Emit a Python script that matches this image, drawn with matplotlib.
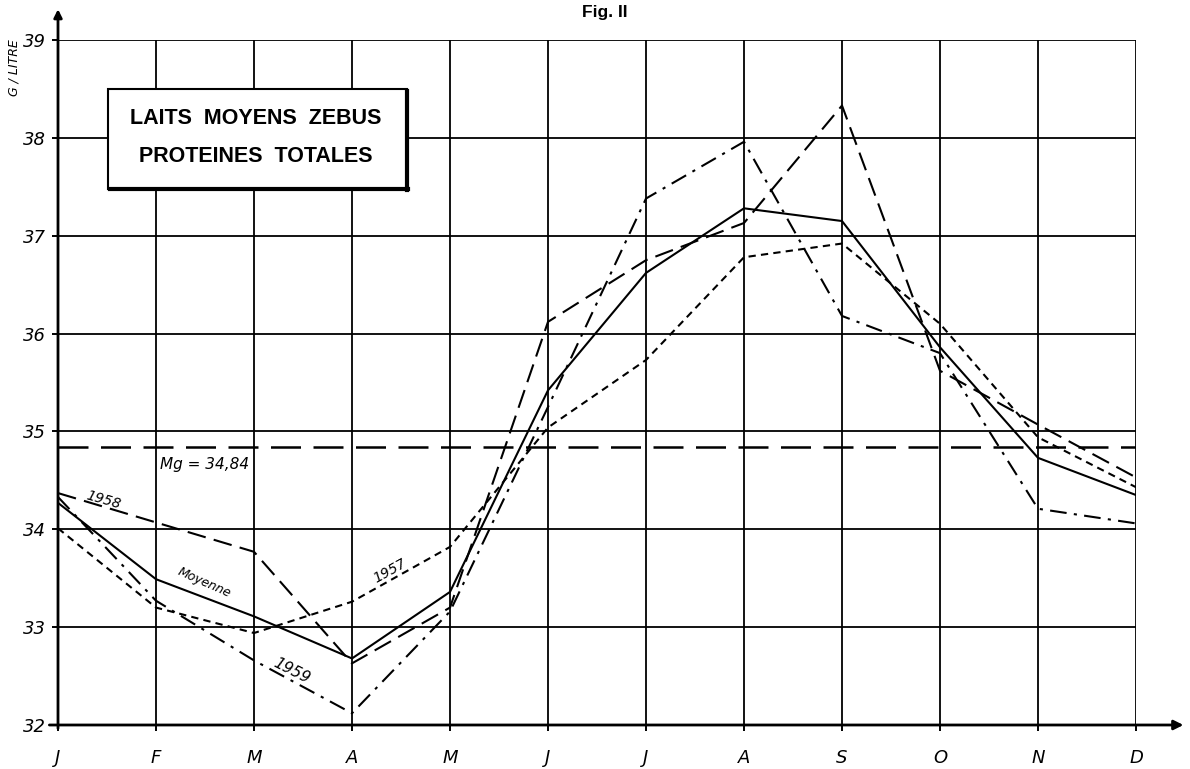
import matplotlib
matplotlib.use("Agg")
import matplotlib.pyplot as plt
import matplotlib.patches as mpatches
import numpy as np

months = ['J', 'F', 'M', 'A', 'M', 'J', 'J', 'A', 'S', 'O', 'N', 'D']
y_ticks = [32, 33, 34, 35, 36, 37, 38, 39]

moyenne = [34.27, 33.49, 33.11, 32.68, 33.36, 35.42, 36.62, 37.28, 37.15, 35.86, 34.73, 34.35]
y1957 = [34.01, 33.20, 32.94, 33.26, 33.82, 35.04, 35.73, 36.78, 36.92, 36.10, 34.94, 34.43]
y1958 = [34.37, 34.07, 33.77, 32.63, 33.20, 36.12, 36.75, 37.13, 38.33, 35.62, 35.07, 34.53]
y1959 = [34.33, 33.27, 32.66, 32.12, 33.16, 35.25, 37.38, 37.96, 36.18, 35.80, 34.21, 34.06]
mg = 34.84

W, H = 1190, 769
fig = plt.figure(figsize=(W / 100, H / 100), dpi=100)
fig.patch.set_facecolor('white')

x0, x1 = 58, 1136
ytop, ybot = 40, 725
ax = fig.add_axes([x0 / W, 1 - ybot / H, (x1 - x0) / W, (ybot - ytop) / H])
x = np.arange(len(months))

num_font = ['DejaVu Sans']

ax.set_xlim(0, 11)
ax.set_ylim(32, 39)
ax.set_xticks(x)
ax.set_xticklabels(months, fontsize=13, style='italic', family=num_font)
ax.set_yticks(y_ticks)
ax.set_yticklabels([str(v) for v in y_ticks], fontsize=13, style='italic', family=num_font)
ax.tick_params(axis='x', length=4, width=1.4, pad=13, color='black')
ax.tick_params(axis='y', length=4, width=1.4, pad=5, color='black')
ax.grid(True, color='black', lw=1.3)
ax.set_axisbelow(True)
for s in ax.spines.values():
    s.set_visible(False)

lw = 1.5
ax.plot(x, moyenne, color='black', lw=lw, ls='-', zorder=3)
ax.plot(x, y1957, color='black', lw=lw, ls=(0, (3.5, 2.5)), zorder=3)
ax.plot(x, y1958, color='black', lw=lw, ls=(0, (9, 4)), zorder=3)
ax.plot(x, y1959, color='black', lw=lw, ls=(0, (8, 3.5, 1.5, 3.5)), zorder=3)
ax.axhline(mg, color='black', lw=1.8, ls=(0, (12, 5)), zorder=3)

# axis arrows
ax.annotate('', xy=(1.044, 0), xytext=(-0.008, 0), xycoords='axes fraction',
            arrowprops=dict(arrowstyle='-|>', lw=2, color='black', mutation_scale=14,
                            shrinkA=0, shrinkB=0), annotation_clip=False)
ax.annotate('', xy=(0, 1.045), xytext=(0, -0.005), xycoords='axes fraction',
            arrowprops=dict(arrowstyle='-|>', lw=2, color='black', mutation_scale=12,
                            shrinkA=0, shrinkB=0), annotation_clip=False)

# curve labels
ax.text(1.04, 34.66, 'Mg = 34,84', fontsize=11, style='italic', family=num_font,
        ha='left', va='center', zorder=4)
ax.text(0.46, 34.30, '1958', fontsize=10, rotation=-16, style='italic',
        family=num_font, ha='center', va='center', zorder=4)
ax.text(1.49, 33.45, 'Moyenne', fontsize=9, rotation=-24, style='italic',
        family=num_font, ha='center', va='center', zorder=4)
ax.text(3.39, 33.57, '1957', fontsize=10, rotation=29, style='italic',
        family=num_font, ha='center', va='center', zorder=4)
ax.text(2.38, 32.55, '1959', fontsize=11, rotation=-27, style='italic',
        family=num_font, ha='center', va='center', zorder=4)

# title box
bx0, by0, bx1, by1 = 108, 89, 407, 189
rect = mpatches.Rectangle((bx0 / W, 1 - by1 / H), (bx1 - bx0) / W, (by1 - by0) / H,
                          transform=fig.transFigure, facecolor='white',
                          edgecolor='black', lw=1.5, zorder=5)
fig.add_artist(rect)
fig.add_artist(plt.Line2D([bx1 / W, bx1 / W], [1 - (by1 + 1) / H, 1 - (by0 + 2) / H],
                          transform=fig.transFigure, color='black', lw=3, zorder=6))
fig.add_artist(plt.Line2D([(bx0 + 2) / W, (bx1 + 1) / W], [1 - by1 / H, 1 - by1 / H],
                          transform=fig.transFigure, color='black', lw=3, zorder=6))
box_font = ['Liberation Sans', 'DejaVu Sans']
fig.text(256 / W, 1 - 118 / H, 'LAITS  MOYENS  ZEBUS', fontsize=15.5, fontweight='bold',
         family=box_font, ha='center', va='center', zorder=7)
fig.text(256 / W, 1 - 157 / H, 'PROTEINES  TOTALES', fontsize=15.5, fontweight='bold',
         family=box_font, ha='center', va='center', zorder=7)

fig.text(14 / W, 1 - 68 / H, 'G / LITRE', fontsize=9, style='italic', family=num_font,
         rotation=90, ha='center', va='center')
fig.text(605 / W, 1 - 12 / H, 'Fig. II', fontsize=12.5, fontweight='bold',
         family=box_font, ha='center', va='center')

fig.savefig('out.png', dpi=100, facecolor='white')
